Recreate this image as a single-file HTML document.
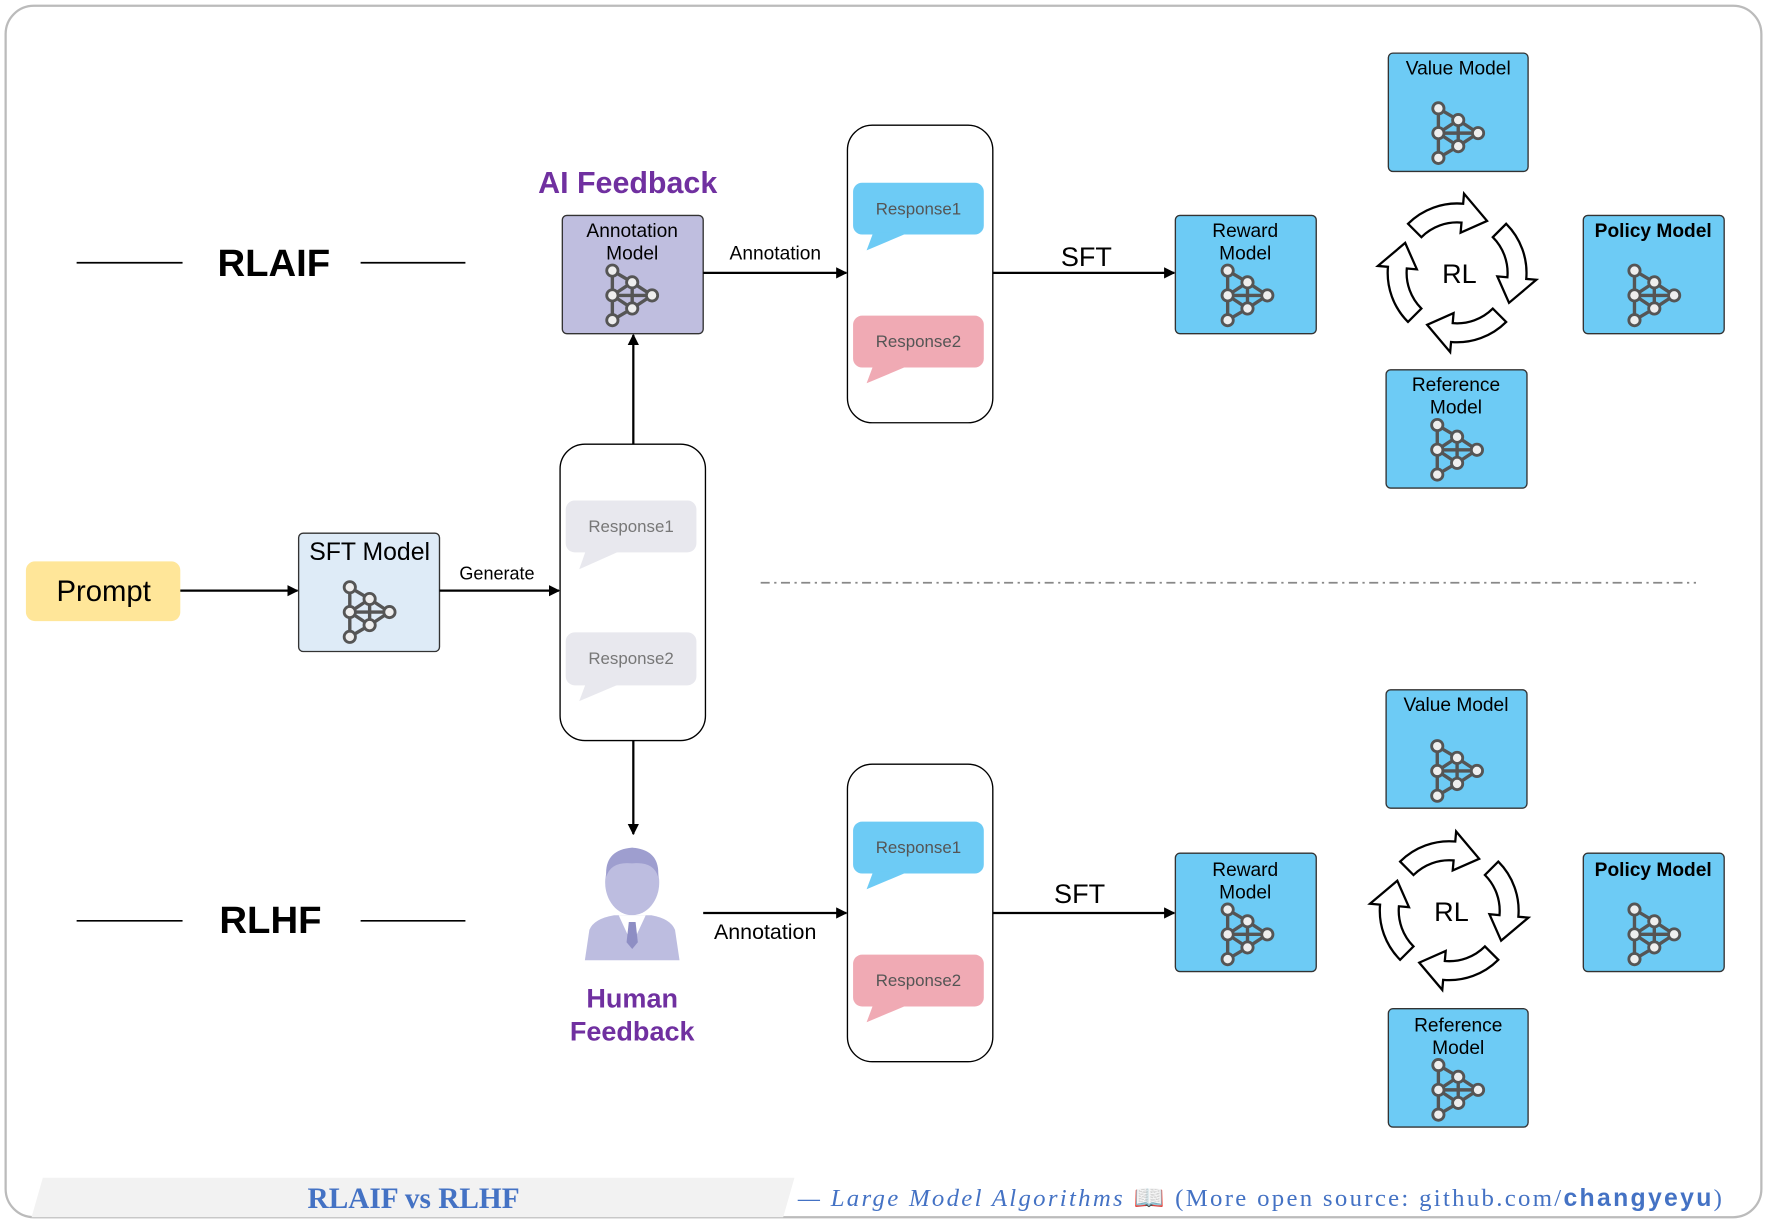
<!DOCTYPE html>
<html><head><meta charset="utf-8"><style>
html,body{margin:0;padding:0;background:#fff;}
svg{display:block;}
text{font-family:"Liberation Sans",sans-serif;}
</style></head><body>
<svg width="1767" height="1223" viewBox="0 0 1568 1085" xmlns="http://www.w3.org/2000/svg">
<defs>
<marker id="ah" markerWidth="10" markerHeight="10" refX="9" refY="5" orient="auto" markerUnits="userSpaceOnUse">
<path d="M0,0 L10,5 L0,10 Z" fill="#000"/></marker>
<g id="net">
<g stroke="#555" stroke-width="3" fill="none">
<path d="M-17.6,-22 L-17.6,22 M-17.6,-22 L0,-11.6 L17.6,0 L0,11.6 L-17.6,22 M-17.6,0 L17.6,0 M0,-11.6 L0,11.6 M-17.6,0 L0,-11.6 M-17.6,0 L0,11.6"/>
</g>
<g fill="#eee" stroke="#555" stroke-width="2.5">
<circle cx="-17.6" cy="-22" r="5"/><circle cx="0" cy="-11.6" r="5"/><circle cx="-17.6" cy="0" r="5"/>
<circle cx="17.6" cy="0" r="5"/><circle cx="0" cy="11.6" r="5"/><circle cx="-17.6" cy="22" r="5"/>
</g></g>
<path id="carr" d="M -47.63 -27.5 A 55 55 0 0 1 -9.55 -54.16 L -10.94 -62.04 L 12.29 -45.88 L -5.56 -31.51 L -6.95 -39.39 A 40 40 0 0 0 -34.64 -20 Z" fill="#fff" stroke="#000" stroke-width="1.8"/>
<g id="rl" transform="scale(1.12)">
<use href="#carr" transform="rotate(15)"/><use href="#carr" transform="rotate(105)"/>
<use href="#carr" transform="rotate(195)"/><use href="#carr" transform="rotate(285)"/>
</g>
</defs>

<rect x="5" y="5" width="1558" height="1075" rx="25" fill="#fff" stroke="#bbb" stroke-width="2"/>

<g stroke="#000" stroke-width="1.5">
<line x1="68" y1="233" x2="162" y2="233"/><line x1="320" y1="233" x2="413" y2="233"/>
<line x1="68" y1="817" x2="162" y2="817"/><line x1="320" y1="817" x2="413" y2="817"/>
</g>
<text x="243" y="245" font-size="34" font-weight="bold" text-anchor="middle">RLAIF</text>
<text x="240" y="828" font-size="34" font-weight="bold" text-anchor="middle">RLHF</text>

<rect x="23" y="498" width="137" height="53" rx="8" fill="#FFE699"/>
<text x="92" y="533" font-size="26" text-anchor="middle">Prompt</text>
<line x1="160" y1="524" x2="264" y2="524" stroke="#000" stroke-width="2" marker-end="url(#ah)"/>
<rect x="265" y="473" width="125" height="105" rx="4" fill="#DEEBF7" stroke="#333" stroke-width="1.2"/>
<text x="328" y="497" font-size="22" text-anchor="middle">SFT Model</text>
<use href="#net" x="328" y="543"/>
<line x1="390" y1="524" x2="496" y2="524" stroke="#000" stroke-width="2" marker-end="url(#ah)"/>
<text x="441" y="514" font-size="16" text-anchor="middle">Generate</text>

<rect x="497" y="394" width="129" height="263" rx="22" fill="#fff" stroke="#000" stroke-width="1.2"/>
<g fill="#E8E8EE">
<rect x="502" y="444" width="116" height="46" rx="8"/><path d="M520,488 L514,505 L552,488 Z"/>
<rect x="502" y="561" width="116" height="47" rx="8"/><path d="M520,606 L514,622 L552,606 Z"/>
</g>
<text x="560" y="472" font-size="15" fill="#777" text-anchor="middle">Response1</text>
<text x="560" y="589" font-size="15" fill="#777" text-anchor="middle">Response2</text>

<line x1="562" y1="394" x2="562" y2="297" stroke="#000" stroke-width="2" marker-end="url(#ah)"/>
<text x="557" y="171" font-size="27" font-weight="bold" fill="#7030A0" text-anchor="middle">AI Feedback</text>
<rect x="499" y="191" width="125" height="105" rx="4" fill="#BFBEDF" stroke="#333" stroke-width="1.2"/>
<text x="561" y="210" font-size="17" text-anchor="middle">Annotation</text>
<text x="561" y="230" font-size="17" text-anchor="middle">Model</text>
<use href="#net" x="561" y="262"/>
<line x1="624" y1="242" x2="751" y2="242" stroke="#000" stroke-width="2" marker-end="url(#ah)"/>
<text x="688" y="230" font-size="17" text-anchor="middle">Annotation</text>

<rect x="752" y="111" width="129" height="264" rx="22" fill="#fff" stroke="#000" stroke-width="1.2"/>
<rect x="757" y="162" width="116" height="46" rx="8" fill="#6DCBF5"/><path d="M775,206 L769,222 L807,206 Z" fill="#6DCBF5"/>
<rect x="757" y="280" width="116" height="46" rx="8" fill="#F0AAB4"/><path d="M775,324 L769,340 L807,324 Z" fill="#F0AAB4"/>
<text x="815" y="190" font-size="15" fill="#555" text-anchor="middle">Response1</text>
<text x="815" y="308" font-size="15" fill="#555" text-anchor="middle">Response2</text>
<line x1="881" y1="242" x2="1042" y2="242" stroke="#000" stroke-width="2" marker-end="url(#ah)"/>
<text x="964" y="236" font-size="24" text-anchor="middle">SFT</text>

<g fill="#6DCBF5" stroke="#333" stroke-width="1.2">
<rect x="1043" y="191" width="125" height="105" rx="4"/>
<rect x="1232" y="47" width="124" height="105" rx="4"/>
<rect x="1230" y="328" width="125" height="105" rx="4"/>
<rect x="1405" y="191" width="125" height="105" rx="4"/>
</g>
<text x="1105" y="210" font-size="17" text-anchor="middle">Reward</text>
<text x="1105" y="230" font-size="17" text-anchor="middle">Model</text>
<use href="#net" x="1107" y="262"/>
<text x="1294" y="66" font-size="17" text-anchor="middle">Value Model</text>
<use href="#net" x="1294" y="118"/>
<text x="1292" y="347" font-size="17" text-anchor="middle">Reference</text>
<text x="1292" y="367" font-size="17" text-anchor="middle">Model</text>
<use href="#net" x="1293" y="399"/>
<text x="1467" y="210" font-size="17" font-weight="bold" text-anchor="middle">Policy Model</text>
<use href="#net" x="1468" y="262"/>
<use href="#rl" x="1293" y="242"/>
<text x="1295" y="251" font-size="24" text-anchor="middle">RL</text>

<line x1="675" y1="517" x2="1505" y2="517" stroke="#888" stroke-width="1.5" stroke-dasharray="8,4,2,4"/>

<line x1="562" y1="657" x2="562" y2="740" stroke="#000" stroke-width="2" marker-end="url(#ah)"/>
<g fill="#BDBDE0">
<path d="M519,852 L523,825 Q527,815 545,812 L578,812 Q595,815 599,825 L603,852 Z"/>
<ellipse cx="561" cy="783" rx="24" ry="29"/>
</g>
<path d="M538,778 Q536,754 561,752 Q586,754 584,778 Q580,764 561,766 Q542,764 538,778 Z" fill="#9E9ECF"/>
<path d="M549,812 L561,838 L573,812 Z" fill="#fff"/>
<path d="M558,818 L564,818 L566,836 L561,842 L556,836 Z" fill="#8E8EC4"/>
<text x="561" y="894" font-size="24" font-weight="bold" fill="#7030A0" text-anchor="middle">Human</text>
<text x="561" y="923" font-size="24" font-weight="bold" fill="#7030A0" text-anchor="middle">Feedback</text>
<line x1="624" y1="810" x2="751" y2="810" stroke="#000" stroke-width="2" marker-end="url(#ah)"/>
<text x="679" y="833" font-size="19" text-anchor="middle">Annotation</text>

<rect x="752" y="678" width="129" height="264" rx="22" fill="#fff" stroke="#000" stroke-width="1.2"/>
<rect x="757" y="729" width="116" height="46" rx="8" fill="#6DCBF5"/><path d="M775,773 L769,789 L807,773 Z" fill="#6DCBF5"/>
<rect x="757" y="847" width="116" height="46" rx="8" fill="#F0AAB4"/><path d="M775,891 L769,907 L807,891 Z" fill="#F0AAB4"/>
<text x="815" y="757" font-size="15" fill="#555" text-anchor="middle">Response1</text>
<text x="815" y="875" font-size="15" fill="#555" text-anchor="middle">Response2</text>
<line x1="881" y1="810" x2="1042" y2="810" stroke="#000" stroke-width="2" marker-end="url(#ah)"/>
<text x="958" y="801" font-size="24" text-anchor="middle">SFT</text>

<g fill="#6DCBF5" stroke="#333" stroke-width="1.2">
<rect x="1043" y="757" width="125" height="105" rx="4"/>
<rect x="1230" y="612" width="125" height="105" rx="4"/>
<rect x="1232" y="895" width="124" height="105" rx="4"/>
<rect x="1405" y="757" width="125" height="105" rx="4"/>
</g>
<text x="1105" y="777" font-size="17" text-anchor="middle">Reward</text>
<text x="1105" y="797" font-size="17" text-anchor="middle">Model</text>
<use href="#net" x="1107" y="829"/>
<text x="1292" y="631" font-size="17" text-anchor="middle">Value Model</text>
<use href="#net" x="1293" y="684"/>
<text x="1294" y="915" font-size="17" text-anchor="middle">Reference</text>
<text x="1294" y="935" font-size="17" text-anchor="middle">Model</text>
<use href="#net" x="1294" y="967"/>
<text x="1467" y="777" font-size="17" font-weight="bold" text-anchor="middle">Policy Model</text>
<use href="#net" x="1468" y="829"/>
<use href="#rl" x="1286" y="808"/>
<text x="1288" y="817" font-size="24" text-anchor="middle">RL</text>

<path d="M38,1045 L705,1045 L695,1080 L28,1080 Z" fill="#F2F2F2"/>
<text x="367" y="1072" font-size="26" font-weight="bold" fill="#4472C4" text-anchor="middle" style="font-family:'Liberation Serif',serif">RLAIF vs RLHF</text>
<text x="708" y="1070" font-size="22" fill="#4472C4" textLength="820" style="font-family:'Liberation Serif',serif"><tspan font-style="italic">— Large Model Algorithms</tspan> 📖 (More open source:    github.com/<tspan font-weight="bold" style="font-family:'Liberation Sans',sans-serif">changyeyu</tspan>)</text>
</svg>
</body></html>
